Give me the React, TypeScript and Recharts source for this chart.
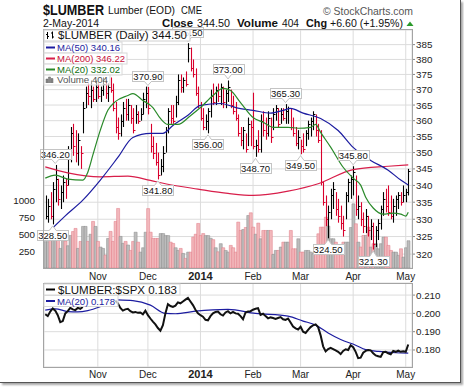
import React from 'react';
import { ComposedChart, Bar, Line, XAxis, YAxis, CartesianGrid, ReferenceDot, Cell } from 'recharts';

const FONT = '"Liberation Sans", Arial, sans-serif';
const RED = '#d9002c';
const NAVY = '#1c1ca0';
const CRIMSON = '#d81e4a';
const GREEN = '#2a8a2a';
const GRID = '#dcdcdc';

// first trading day of each month (index into the daily series)
const MONTH_TICKS = [21, 41, 62, 83, 102, 123, 144];
const MONTH_LABELS = ['Nov', 'Dec', '2014', 'Feb', 'Mar', 'Apr', 'May'];
const PRICE_TICKS = [320, 325, 330, 335, 340, 345, 350, 355, 360, 365, 370, 375, 380, 385];
const VOLUME_TICKS = [250, 500, 750, 1000];
const RATIO_TICKS = [0.18, 0.19, 0.2, 0.21];

// daily bars, 3-Oct-2013 .. 2-May-2014
const HIGH = [
  337, 336, 338, 341, 346.2, 342, 340, 343, 342, 352,
  358, 359, 357, 356, 352, 366, 371, 372, 373, 371,
  373, 372, 371, 374, 373, 372, 374, 372, 366, 361,
  362, 366, 367, 367, 365, 364, 365, 363, 364, 369,
  371, 370.9, 359, 355, 353, 350, 348, 352, 358, 364,
  365, 365, 368, 375, 375, 374, 376, 385.5, 384, 380,
  377, 371, 366, 364, 362, 364, 370, 372, 371, 372,
  372, 371, 370, 373, 370, 368, 366, 362, 358, 358,
  356, 361, 360, 369, 354, 357, 362, 363, 361, 363,
  361, 364, 365, 364, 364, 364, 365.3, 364.5, 364, 361,
  358, 357, 354, 356, 357, 360, 361, 363, 362, 359,
  357, 341, 337, 334, 339, 341, 338, 336, 334, 331,
  338, 342, 343, 345.8, 343, 337, 335, 332, 333, 331,
  330, 329, 328, 330, 334, 338, 339, 340, 337, 336,
  337, 338, 338, 340, 339, 345,
];
const LOW = [
  330, 329, 330, 328.5, 335, 334, 333, 335, 336, 340,
  347, 349, 347, 346, 345, 356, 364, 365, 364, 366,
  366, 367, 366, 368, 367, 366, 369, 363, 356, 354,
  355, 358, 360, 360, 359, 356, 359, 359, 360, 362,
  364, 362, 350, 348, 346, 341.8, 343, 344, 350, 356,
  359, 359, 361, 365, 369, 369, 371, 379, 376, 374,
  368, 364, 360, 357, 357, 356, 361, 365, 365, 366,
  365, 364, 364, 366, 364, 362, 360, 355, 352, 351,
  350, 352, 352, 351, 348.7, 350, 350, 355, 354, 355,
  353, 357, 360, 358, 359, 360, 359, 359, 357, 355,
  352, 351, 349.5, 350, 352, 354, 355, 357, 355, 353,
  340, 334, 328, 324.5, 330, 333, 331, 329, 327, 325,
  330, 335, 336, 337, 331, 330, 328, 326, 326, 325,
  324, 321.3, 322, 324, 327, 331, 332, 331, 330, 329,
  331, 333, 334, 335, 335, 337,
];
const CLOSE = [
  331, 334, 331, 339, 342, 336, 338, 341, 340, 350,
  356, 352, 350, 354, 350, 364, 369, 368, 370, 367,
  371, 368, 370, 372, 369, 371, 370, 364, 358, 356,
  360, 364, 362, 365, 361, 357, 362, 360, 362, 367,
  369, 364, 352, 350, 347, 343, 346, 350, 357, 363,
  361, 360, 366, 373, 371, 373, 372, 384, 377, 375,
  369, 365, 361, 358, 360, 363, 368, 366, 370, 368,
  371, 366, 369, 371, 365, 363, 361, 356, 354, 357,
  351, 359, 358, 352, 352.5, 351, 360, 357, 356, 361,
  355, 362, 364, 359, 362, 361, 363, 364, 358, 356,
  353, 355, 352, 351, 356, 359, 360, 362, 357, 354,
  341, 335, 330, 332, 337, 339, 333, 331, 329, 327,
  337, 341, 342, 344, 333, 334, 330, 328, 331, 327,
  328, 323, 327, 329, 333, 336, 334, 332, 331, 334,
  336, 337, 335, 337, 337.9, 344.5,
];
const VOLUME = [
  390, 390, 468, 440, 440, 420, 290, 542, 400, 330,
  482, 540, 586, 290, 394, 616, 616, 394, 500, 690,
  616, 394, 310, 290, 190, 438, 542, 394, 690, 882,
  468, 364, 394, 340, 260, 394, 530, 383, 235, 300,
  530, 880, 530, 438, 438, 438, 510, 510, 480, 480,
  383, 364, 300, 260, 290, 216, 142, 235, 235, 457,
  500, 660, 480, 510, 480, 480, 440, 420, 300, 240,
  360, 300, 260, 235, 335, 300, 235, 680, 556, 570,
  600, 778, 818, 605, 500, 665, 433, 556, 556, 556,
  556, 200, 260, 260, 310, 383, 383, 383, 556, 285,
  285, 433, 235, 235, 260, 260, 235, 210, 210, 507,
  605, 605, 753, 620, 433, 433, 383, 335, 310, 383,
  383, 383, 600, 950, 655, 383, 310, 482, 482, 605,
  310, 360, 360, 285, 360, 457, 457, 335, 260, 235,
  235, 186, 285, 161, 300, 404,
];
// $LUMBER:$SPX, with the stretch where the ratio is missing
const RATIO = [
  0.1995, 0.1985, 0.201, 0.2027, 0.2015, 0.199, 0.1952, 0.1958, 0.2, 0.2012,
  0.203, 0.2022, 0.2018, 0.203, 0.2025, 0.2035, null, null, null, null,
  null, null, null, null, null, null, null, null, 0.207, 0.2055,
  0.203, 0.2015, 0.2022, 0.2025, 0.2012, 0.2005, 0.2008, 0.2003, 0.2005, 0.1995,
  0.2015, 0.199, 0.1972, 0.1955, 0.194, 0.192, 0.1905, 0.1935, 0.2, 0.205,
  0.204, 0.2035, 0.2042, 0.206, 0.2055, 0.2065, 0.2075, 0.2085, 0.2065, 0.2045,
  0.202, 0.2, 0.199, 0.1982, 0.1965, 0.1962, 0.1985, 0.2, 0.2008, 0.201,
  0.1995, 0.1988, 0.2005, 0.2012, 0.2, 0.2008, 0.2, 0.1998, 0.1985, 0.1968,
  0.2005, 0.201, 0.2012, 0.202, 0.2025, 0.2028, 0.1992, 0.1998, 0.1985, 0.1973,
  0.1978, 0.1975, 0.197, 0.1975, 0.198, 0.1968, 0.1964, 0.1972, 0.195, 0.1928,
  0.1918, 0.1912, 0.1927, 0.19, 0.1893, 0.191, 0.1925, 0.1935, 0.194, 0.1925,
  0.188, 0.182, 0.1792, 0.1805, 0.1812, 0.1805, 0.1798, 0.179, 0.1778, 0.1795,
  0.1804, 0.18, 0.1826, 0.1815, 0.179, 0.1756, 0.1758, 0.1785, 0.1795, 0.18,
  0.1798, 0.1782, 0.177, 0.1766, 0.1762, 0.1788, 0.179, 0.1782, 0.1776, 0.1795,
  0.179, 0.1796, 0.179, 0.1793, 0.179, 0.183,
];

// moving averages at [bar index, value]
const MA20_PTS = [
  [0, 342.2], [4, 343.1], [9, 341.9], [15, 341.6], [17, 344], [19, 349.2], [22, 357], [25, 363.3],
  [28, 366.1], [33, 368.1], [35, 368.7], [39, 366.5], [43, 364.2], [46, 360.7], [49, 358.8], [53, 358.8],
  [58, 361.6], [62, 364.2], [67, 368.1], [71, 370.4], [74, 369.7], [78, 365.8], [83, 361], [87, 359.5],
  [91, 357.9], [97, 357.9], [101, 357.6], [106, 357.9], [108, 358.8], [110, 356.3], [114, 351.7],
  [119, 345.5], [123, 342.2], [126, 340.1], [128, 336.5], [131, 333.3], [135, 331.5], [139, 331.8],
  [142, 331.5], [144, 330.9], [145, 332.02],
];
const MA50_PTS = [
  [0, 325.5], [2, 326.8], [8, 331], [15, 335.6], [22, 341.6], [29, 348.5], [35, 354.7], [42, 356],
  [47, 356], [51, 358.5], [57, 361.7], [62, 364.9], [70, 365.5], [77, 364], [83, 363.3], [90, 362.4],
  [95, 363.3], [98, 363.9], [103, 362.4], [110, 360.7], [117, 356.9], [123, 351.6], [130, 347.6],
  [137, 344.6], [142, 341.6], [145, 340.16],
];
const MA200_PTS = [
  [0, 345.6], [9, 343.8], [22, 342.6], [33, 342.8], [42, 341.5], [48, 340.5], [61, 338.9], [73, 337.6],
  [83, 337], [97, 338.3], [109, 340.5], [123, 344.8], [137, 345.8], [145, 346.22],
];
const RATIO_MA_A = [[0, 0.2018], [4, 0.2025], [9, 0.201], [13, 0.2008], [17, 0.2015], [22, 0.2036]];
const RATIO_MA_B = [
  [29, 0.2074], [35, 0.207], [42, 0.2045], [48, 0.2], [52, 0.1998], [60, 0.2012], [73, 0.2022],
  [84, 0.2], [97, 0.1985], [103, 0.1958], [108, 0.1936], [113, 0.1893], [118, 0.1857], [124, 0.1826],
  [128, 0.1802], [133, 0.1792], [140, 0.1785], [145, 0.1783],
];

// price annotations: [bar index, price, label, above the bar]
const NOTES: [number, number, string, boolean][] = [
  [4, 346.2, '346.20', true], [3, 328.5, '328.50', false], [41, 370.9, '370.90', true],
  [45, 341.8, '341.80', false], [57, 385.5, '385.50', true], [65, 356, '356.00', false],
  [73, 373, '373.00', true], [84, 348.7, '348.70', false], [96, 365.3, '365.30', true],
  [102, 349.5, '349.50', false], [123, 345.8, '345.80', true], [113, 324.5, '324.50', false],
  [131, 321.3, '321.30', false],
];

const at = (pts: number[][], i: number) => {
  const p = pts.find((q) => q[0] === i);
  return p ? p[1] : null;
};

const N = HIGH.length;
const data = Array.from({ length: N + 1 }, (_, i) =>
  i < N
    ? {
        i,
        hl: [LOW[i], HIGH[i]],
        close: CLOSE[i],
        vol: VOLUME[i],
        down: i > 0 && CLOSE[i] < CLOSE[i - 1],
        ma20: at(MA20_PTS, i),
        ma50: at(MA50_PTS, i),
        ma200: at(MA200_PTS, i),
        ratio: RATIO[i],
        rmaA: at(RATIO_MA_A, i),
        rmaB: at(RATIO_MA_B, i),
      }
    : { i }
);

const HlcBar = (props: any) => {
  const { x, y, width, height, payload } = props;
  if (!payload || !payload.hl) return null;
  const [lo, hi] = payload.hl;
  const top = Math.min(y, y + height);
  const h = Math.abs(height);
  const cx = Math.round(x + width / 2) + 0.5;
  const t = (Math.log(hi) - Math.log(payload.close)) / (Math.log(hi) - Math.log(lo));
  const cy = Math.round(top + t * h) + 0.5;
  const col = payload.down ? RED : '#000';
  return (
    <g>
      <line x1={cx} x2={cx} y1={top} y2={top + h} stroke={col} strokeWidth={1.1} />
      <line x1={cx} x2={cx + 2} y1={cy} y2={cy} stroke={col} strokeWidth={1} />
    </g>
  );
};

const Note = ({ cx, cy, text, up }: any) => {
  const w = 31;
  const h = 10;
  const bx = Math.round(cx - w / 2) + 0.5;
  const by = up ? Math.round(cy - 6 - h) + 0.5 : Math.round(cy + 6) + 0.5;
  const edge = up ? by + h : by;
  const tip = up ? cy - 1.5 : cy + 1.5;
  return (
    <g>
      <rect x={bx} y={by} width={w} height={h} fill="#fff" stroke="#c4c4c4" />
      <path d={`M${cx - 3.5},${edge} L${cx},${tip} L${cx + 3.5},${edge}`} fill="#fff" stroke="#c4c4c4" />
      <line x1={cx - 3} x2={cx + 3} y1={edge} y2={edge} stroke="#fff" />
      <text x={cx} y={by + 8.3} textAnchor="middle" fontSize={9.5} fontFamily={FONT} fill="#111">
        {text}
      </text>
    </g>
  );
};

const MonthTick = (props: any) => {
  const { x, y, payload, shift } = props;
  const k = MONTH_TICKS.indexOf(payload.value);
  const label = k >= 0 ? MONTH_LABELS[k] : '';
  const bold = label === '2014';
  return (
    <text x={x} y={y + shift} textAnchor="middle" fontFamily={FONT} fontSize={bold ? 11 : 10}
      fontWeight={bold ? 700 : 400} fill="#222">
      {label}
    </text>
  );
};

const axisTick = { fontSize: 9.8, fill: '#222', fontFamily: FONT };

const T = ({ x, y, w, size = 10, bold = false, fill = '#111', children }: any) => (
  <text x={x} y={y} fontSize={size} fontFamily={FONT} fontWeight={bold ? 700 : 400} fill={fill}
    textLength={w} lengthAdjust="spacingAndGlyphs">
    {children}
  </text>
);

const Overlay = () => (
  <svg width={464} height={387} style={{ position: 'absolute', left: 0, top: 0, pointerEvents: 'none' }}>
    {/* header */}
    <T x={43} y={15} w={61} size={14} bold>$LUMBER</T>
    <T x={108} y={14} w={67} size={10}>Lumber (EOD)</T>
    <T x={181} y={14} w={21} size={10}>CME</T>
    <T x={323} y={14.5} w={90} size={10.5} fill="#555">© StockCharts.com</T>
    <T x={43} y={26.5} w={56} size={10.5}>2-May-2014</T>
    <T x={162} y={26.5} w={31} size={10.5} bold>Close</T>
    <T x={197} y={26.5} w={33} size={10.5}>344.50</T>
    <T x={237} y={26.5} w={41} size={10.5} bold>Volume</T>
    <T x={282} y={26.5} w={17} size={10.5}>404</T>
    <T x={306} y={26.5} w={21} size={10.5} bold>Chg</T>
    <T x={330} y={26.5} w={73} size={10.5}>+6.60 (+1.95%)</T>
    <path d="M406.5,26 L410,21.5 L413.5,26 Z" fill="#2a9a2a" />

    {/* panel borders */}
    <rect x={43.5} y={29.5} width={369} height={239} fill="none" stroke="#a4a4a4" />
    <rect x={43.5} y={283.5} width={369} height={84} fill="none" stroke="#a4a4a4" />

    {/* main legend */}
    <rect x={44} y={30} width={146} height={11} fill="#fff" fillOpacity={0.85} stroke="#d0d0d0" />
    <rect x={44} y={42} width={78} height={11} fill="#fff" fillOpacity={0.7} stroke="#d8d8d8" />
    <rect x={44} y={53} width={83} height={11} fill="#fff" fillOpacity={0.7} stroke="#d8d8d8" />
    <rect x={44} y={64} width={78} height={11} fill="#fff" fillOpacity={0.7} stroke="#d8d8d8" />
    <rect x={44} y={75} width={66} height={10} fill="#fff" fillOpacity={0.6} stroke="#d8d8d8" />
    <path d="M47.5,32 V39 M46,34.5 H47.5 M47.5,36.5 H49 M52.5,31.5 V38.5 M51,33 H52.5 M52.5,37 H54" stroke="#000" strokeWidth={1} />
    <T x={58} y={38.5} w={129} size={10}>$LUMBER (Daily) 344.50</T>
    <line x1={46} x2={55} y1={47.5} y2={47.5} stroke={NAVY} strokeWidth={2} />
    <T x={57} y={51} w={63} size={9.5} fill={NAVY}>MA(50) 340.16</T>
    <line x1={46} x2={55} y1={58.5} y2={58.5} stroke={CRIMSON} strokeWidth={2} />
    <T x={57} y={62} w={68} size={9.5} fill="#c8103a">MA(200) 346.22</T>
    <line x1={46} x2={55} y1={69.5} y2={69.5} stroke={GREEN} strokeWidth={2} />
    <T x={57} y={73} w={63} size={9.5} fill="#0f6e0f">MA(20) 332.02</T>
    <path d="M46,83 V79 H48 V83 M48.5,83 V77 H50.5 V83 M51,83 V78.5 H53 V83" fill="#888" stroke="#666" strokeWidth={0.5} />
    <T x={57} y={83} w={51} size={9.5} fill="#555">Volume 404</T>

    {/* lower legend */}
    <rect x={44} y={284} width={136} height={11} fill="#fff" fillOpacity={0.85} stroke="#d8d8d8" />
    <rect x={44} y={295.5} width={74} height={11} fill="#fff" fillOpacity={0.7} stroke="#d8d8d8" />
    <line x1={46} x2={55} y1={289.5} y2={289.5} stroke="#000" strokeWidth={2} />
    <T x={58} y={293.5} w={119} size={10}>$LUMBER:$SPX 0.183</T>
    <line x1={46} x2={55} y1={301} y2={301} stroke={NAVY} strokeWidth={2} />
    <T x={57} y={305} w={58} size={9.5} fill={NAVY}>MA(20) 0.178</T>
  </svg>
);

export default function App() {
  return (
    <div style={{ position: 'absolute', left: 0, top: 0, width: 464, height: 387, background: '#fff', fontFamily: FONT }}>
      <div style={{ position: 'absolute', left: 0, top: 0, width: 460, height: 382, background: '#fff',
        borderRight: '1px solid #555', borderBottom: '1px solid #555', boxShadow: '2px 2px 2px rgba(0,0,0,0.35)' }} />

      <div style={{ position: 'absolute', left: 0, top: 0 }}>
        <ComposedChart width={464} height={290} data={data} margin={{ top: 30, right: 0, bottom: 6, left: 0 }}
          barCategoryGap={0} barGap={0}>
          <CartesianGrid xAxisId="p" yAxisId="price" stroke={GRID} />
          <XAxis xAxisId="p" dataKey="i" type="category" ticks={MONTH_TICKS} interval={0} height={16}
            tickLine={false} axisLine={false} tickSize={0} tickMargin={0}
            tick={(p: any) => <MonthTick {...p} shift={12} />} />
          <XAxis xAxisId="v" dataKey="i" type="category" hide />
          <YAxis yAxisId="vol" orientation="left" width={44} domain={[0, 3525]} ticks={VOLUME_TICKS}
            interval={0} allowDataOverflow tickLine={false} axisLine={false} tickMargin={3} tick={axisTick} />
          <YAxis yAxisId="price" orientation="right" width={52} type="number" scale="log" domain={[316.1, 390]}
            ticks={PRICE_TICKS} interval={0} allowDataOverflow axisLine={false} tickSize={3} tickMargin={1}
            tickLine={{ stroke: '#888' }} tick={axisTick} />
          <Bar xAxisId="v" yAxisId="vol" dataKey="vol" isAnimationActive={false}>
            {data.map((d: any) => (
              <Cell key={d.i} fill={d.down ? '#f2b8bc' : '#bcbcbc'} stroke={d.down ? '#e07884' : '#888'}
                strokeWidth={0.5} />
            ))}
          </Bar>
          <Bar xAxisId="p" yAxisId="price" dataKey="hl" shape={HlcBar} isAnimationActive={false} />
          <Line xAxisId="p" yAxisId="price" dataKey="ma200" type="monotone" stroke={CRIMSON} strokeWidth={1.2}
            dot={false} connectNulls isAnimationActive={false} />
          <Line xAxisId="p" yAxisId="price" dataKey="ma50" type="monotone" stroke={NAVY} strokeWidth={1.2}
            dot={false} connectNulls isAnimationActive={false} />
          <Line xAxisId="p" yAxisId="price" dataKey="ma20" type="monotone" stroke={GREEN} strokeWidth={1.2}
            dot={false} connectNulls isAnimationActive={false} />
          {NOTES.map((n) => (
            <ReferenceDot key={n[2]} xAxisId="p" yAxisId="price" x={n[0]} y={n[1]} ifOverflow="visible"
              shape={(p: any) => <Note cx={p.cx} cy={p.cy} text={n[2]} up={n[3]} />} />
          ))}
        </ComposedChart>
      </div>

      <div style={{ position: 'absolute', left: 0, top: 270 }}>
        <ComposedChart width={464} height={110} data={data} margin={{ top: 13, right: 0, bottom: 0, left: 44 }}>
          <CartesianGrid stroke={GRID} />
          <XAxis dataKey="i" type="category" scale="band" ticks={MONTH_TICKS} interval={0} height={13}
            tickLine={false} axisLine={false} tickSize={0} tickMargin={0}
            tick={(p: any) => <MonthTick {...p} shift={10.5} />} />
          <YAxis orientation="right" width={52} domain={[0.1707, 0.2166]} ticks={RATIO_TICKS} interval={0}
            allowDataOverflow tickFormatter={(v: number) => v.toFixed(3)} axisLine={false} tickSize={3}
            tickMargin={1} tickLine={{ stroke: '#888' }} tick={axisTick} />
          <Line dataKey="rmaA" type="monotone" stroke={NAVY} strokeWidth={1.2} dot={false} connectNulls
            isAnimationActive={false} />
          <Line dataKey="rmaB" type="monotone" stroke={NAVY} strokeWidth={1.2} dot={false} connectNulls
            isAnimationActive={false} />
          <Line dataKey="ratio" type="linear" stroke="#111" strokeWidth={2} dot={false} isAnimationActive={false} />
        </ComposedChart>
      </div>

      <Overlay />
    </div>
  );
}
